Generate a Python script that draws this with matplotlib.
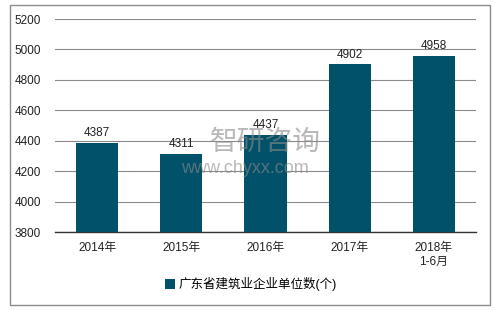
import matplotlib
matplotlib.use("Agg")
import matplotlib.pyplot as plt
from matplotlib.patches import Rectangle

categories = ["2014年", "2015年", "2016年", "2017年", "2018年\n1-6月"]
values = [4387, 4311, 4437, 4902, 4958]
yticks = [3800, 4000, 4200, 4400, 4600, 4800, 5000, 5200]
legend_label = "广东省建筑业企业单位数(个)"

plt.rcParams['font.family'] = ['Liberation Sans', 'Noto Sans CJK SC', 'DejaVu Sans']

bar_color = "#02516B"

fig = plt.figure(figsize=(5.01, 3.10), dpi=100)
ax = fig.add_axes([0.1098, 0.2516, 0.8402, 0.6871])

x = range(len(categories))
ax.bar(x, values, width=0.5, color=bar_color, label=legend_label, zorder=3)
for xi, v in zip(x, values):
    ax.text(xi, v + 25, str(v), ha="center", va="bottom", fontsize=8.5, color="#222222", zorder=4)

ax.set_xlim(-0.5, len(categories) - 0.5)
ax.set_ylim(3800, 5200)
ax.set_yticks(yticks)
ax.set_xticks(list(x))
ax.set_xticklabels(categories, fontsize=8.5, color="#222222")
ax.tick_params(axis="y", labelsize=8.5, labelcolor="#222222", length=0, pad=10)
ax.tick_params(axis="x", length=0, pad=7)
ax.grid(axis="y", color="#8a8a8a", linewidth=0.8, zorder=0)
for s in ["top", "right", "left"]:
    ax.spines[s].set_visible(False)
ax.spines["bottom"].set_color("#333333")
ax.spines["bottom"].set_linewidth(1.0)

# watermark
fig.text(210 / 501, 1 - 143 / 310, "智研咨询", fontsize=20, color="#8a8a8a",
         alpha=0.6, ha="left", va="center", zorder=5)
fig.text(181 / 501, 1 - 168 / 310, "www.chyxx.com", fontsize=13, color="#8a8a8a",
         alpha=0.6, ha="left", va="center", zorder=5)

fig.legend(loc="center", bbox_to_anchor=(0.5, 0.083), frameon=False, fontsize=9,
           handlelength=0.8, handleheight=0.8, handletextpad=0.3)

fig.patches.append(Rectangle((10 / 501, 5 / 310), 480 / 501, 300 / 310, transform=fig.transFigure,
                             fill=False, edgecolor="#8c8c8c", linewidth=1.0))

fig.savefig("out.png", dpi=100)
